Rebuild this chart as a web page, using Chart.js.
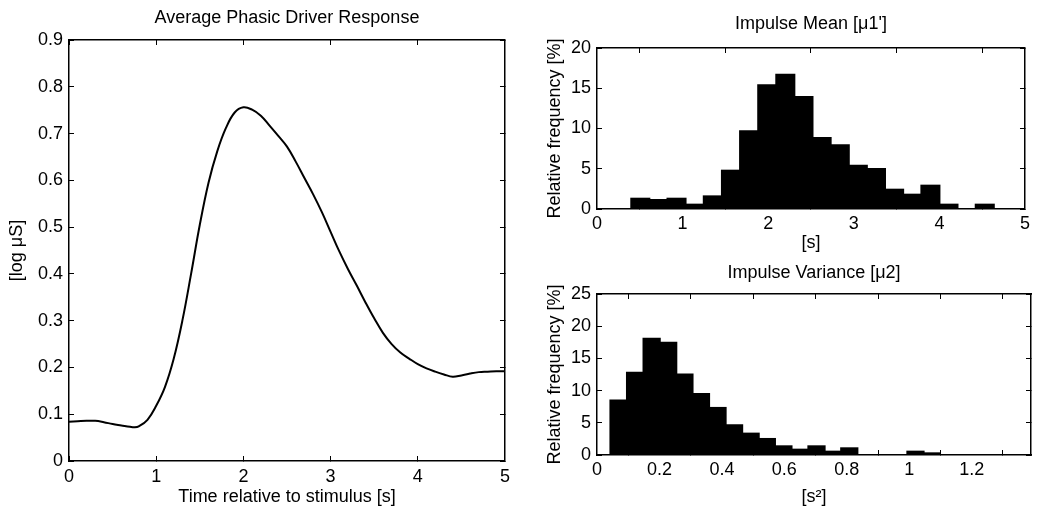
<!DOCTYPE html>
<html>
<head>
<meta charset="utf-8">
<script src="https://cdn.jsdelivr.net/npm/chart.js@4.4.1/dist/chart.umd.min.js"></script>
<style>
  body { margin: 0; background: #fff; }
  .wrap { position: relative; width: 1039px; height: 511px; }
  canvas { position: absolute; }
</style>
</head>
<body>
<div class="wrap">
  <canvas id="phasic" width="520" height="511" style="left:0;top:0"></canvas>
  <canvas id="mean" width="519" height="256" style="left:520px;top:0"></canvas>
  <canvas id="variance" width="519" height="255" style="left:520px;top:256px"></canvas>
</div>
<script>
// average phasic driver response
const time = [0, 0.1, 0.2, 0.3, 0.4, 0.5, 0.6, 0.7, 0.75, 0.8, 0.9, 1.0, 1.1, 1.2, 1.3, 1.4,
  1.5, 1.6, 1.7, 1.8, 1.9, 2.0, 2.1, 2.2, 2.3, 2.4, 2.5, 2.6, 2.7, 2.8, 2.9, 3.0, 3.1, 3.2,
  3.3, 3.4, 3.5, 3.6, 3.7, 3.8, 3.9, 4.0, 4.1, 4.2, 4.3, 4.4, 4.5, 4.6, 4.7, 4.8, 4.9, 5.0];
const response = [0.084, 0.085, 0.086, 0.086, 0.083, 0.079, 0.076, 0.073, 0.072, 0.074, 0.088,
  0.118, 0.158, 0.218, 0.30, 0.40, 0.505, 0.595, 0.662, 0.712, 0.745, 0.756, 0.751, 0.738, 0.717,
  0.695, 0.672, 0.64, 0.605, 0.57, 0.532, 0.49, 0.448, 0.41, 0.375, 0.339, 0.305, 0.274,
  0.25, 0.232, 0.219, 0.207, 0.198, 0.191, 0.185, 0.18, 0.183, 0.187, 0.19, 0.191, 0.192, 0.192];

// impulse mean histogram: bin centres [s] and relative frequency [%]
const meanBins = [0.506, 0.718, 0.929, 1.141, 1.353, 1.565, 1.777, 1.989, 2.200, 2.412,
  2.624, 2.836, 3.047, 3.259, 3.471, 3.683, 3.895, 4.106, 4.318, 4.530];
const meanFreq = [1.28, 1.12, 1.28, 0.54, 1.57, 4.76, 9.65, 15.36, 16.69, 13.9,
  8.82, 7.91, 5.38, 4.97, 2.4, 1.78, 2.9, 0.54, 0, 0.54];

// impulse variance histogram: bin centres [s^2] and relative frequency [%]
const varBins = [0.069, 0.122, 0.175, 0.228, 0.280, 0.333, 0.386, 0.439, 0.492, 0.544,
  0.597, 0.650, 0.703, 0.755, 0.808, 0.861, 0.914, 0.967, 1.020, 1.072];
const varFreq = [8.45, 12.76, 18.05, 17.43, 12.5, 9.49, 7.31, 4.62, 3.32, 2.49,
  1.35, 0.83, 1.35, 0.52, 1.04, 0, 0, 0, 0.52, 0.26];

Chart.defaults.font.family = "'Liberation Sans', Arial, sans-serif";
Chart.defaults.font.size = 18;
Chart.defaults.color = '#000';
Chart.defaults.animation = false;

const TICK = -5; // matlab style ticks point into the box

function gridOpts() {
  return { display: true, drawOnChartArea: false, drawTicks: true, tickLength: TICK, color: '#000', lineWidth: 1 };
}
const borderOpts = { display: true, color: '#000', width: 1.5 };
// plain numbers, "1" not "1.0"
const plain = v => String(Number(v.toFixed(2)));

// visible axis with labels; size forced so the plot box lands where the figure has it
function axis(pos, min, max, step, size, tickPad, title, titlePad) {
  const horiz = pos === 'bottom' || pos === 'top';
  return {
    type: 'linear', position: pos, min, max, offset: false,
    grid: gridOpts(), border: borderOpts,
    ticks: { stepSize: step, padding: tickPad, maxRotation: 0, autoSkip: false, includeBounds: false,
      font: { size: 18 }, callback: plain },
    title: { display: true, text: title, font: { size: 18 }, padding: titlePad },
    afterFit(s) { if (horiz) s.height = size; else s.width = size; }
  };
}
// mirror axis on the opposite side: just the frame line and inner ticks
function mirror(pos, min, max, step) {
  const horiz = pos === 'bottom' || pos === 'top';
  return {
    type: 'linear', position: pos, min, max, offset: false,
    grid: gridOpts(), border: borderOpts,
    ticks: { display: false, stepSize: step, includeBounds: false },
    afterFit(s) { if (horiz) s.height = 0; else s.width = 0; }
  };
}
function titleOpts(text, top, bottom) {
  return { display: true, text, fullSize: false, font: { size: 18, weight: 'normal' }, color: '#000', padding: { top, bottom } };
}
function histSet(bins, freq) {
  return {
    data: bins.map((b, i) => ({ x: b, y: freq[i] })),
    backgroundColor: '#000', borderWidth: 0, inflateAmount: 1,
    barPercentage: 1, categoryPercentage: 1
  };
}
const quiet = { legend: { display: false }, tooltip: { enabled: false } };

new Chart(document.getElementById('phasic'), {
  type: 'line',
  data: {
    datasets: [{
      data: time.map((t, i) => ({ x: t, y: response[i] })),
      borderColor: '#000', borderWidth: 2, pointRadius: 0, tension: 0.4, fill: false
    }]
  },
  options: {
    responsive: false,
    layout: { padding: { left: 0, right: 14, top: 0, bottom: 0 } },
    plugins: Object.assign({ title: titleOpts('Average Phasic Driver Response', 7, 11.4) }, quiet),
    scales: {
      x: axis('bottom', 0, 5, 1, 50, 10, 'Time relative to stimulus [s]', { top: 0, bottom: 3 }),
      y: axis('left', 0, 0.9, 0.1, 69, 11, '[log μS]', { top: 6, bottom: 0 }),
      x2: mirror('top', 0, 5, 1),
      y2: mirror('right', 0, 0.9, 0.1)
    }
  }
});

new Chart(document.getElementById('mean'), {
  type: 'bar',
  data: { datasets: [histSet(meanBins, meanFreq)] },
  options: {
    responsive: false,
    layout: { padding: { left: 0, right: 8, top: 0, bottom: 0 } },
    plugins: Object.assign({ title: titleOpts("Impulse Mean [μ1']", 13, 13.4) }, quiet),
    scales: {
      x: axis('bottom', 0, 5, 1, 47, 9, '[s]', { top: 0, bottom: 2 }),
      y: axis('left', 0, 20, 5, 77, 11, 'Relative frequency [%]', { top: 24, bottom: 0 }),
      x2: mirror('top', 0, 5, 1),
      y2: mirror('right', 0, 20, 5)
    }
  }
});

new Chart(document.getElementById('variance'), {
  type: 'bar',
  data: { datasets: [histSet(varBins, varFreq)] },
  options: {
    responsive: false,
    layout: { padding: { left: 0, right: 8, top: 0, bottom: 0 } },
    plugins: Object.assign({ title: titleOpts('Impulse Variance [μ2]', 6, 10.4) }, quiet),
    scales: {
      x: axis('bottom', 0, 1.39, 0.2, 56, 9, '[s²]', { top: 0, bottom: 3 }),
      y: axis('left', 0, 25, 5, 77, 11, 'Relative frequency [%]', { top: 24, bottom: 0 }),
      x2: mirror('top', 0, 1.39, 0.2),
      y2: mirror('right', 0, 25, 5)
    }
  }
});
</script>
</body>
</html>
